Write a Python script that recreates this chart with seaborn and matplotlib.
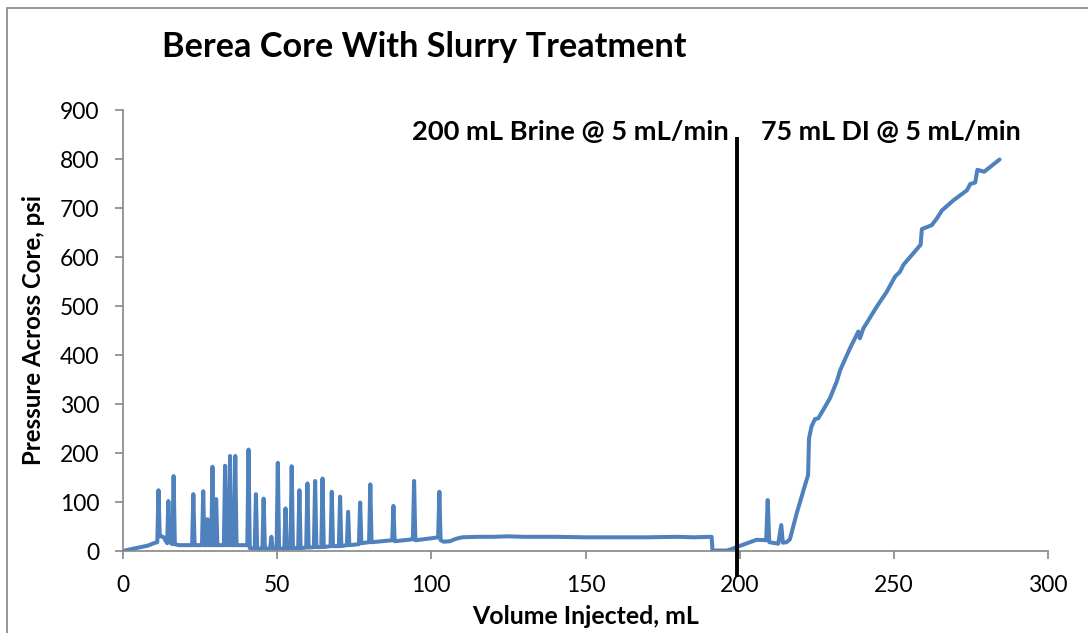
import matplotlib
matplotlib.use("Agg")
import matplotlib.pyplot as plt
import matplotlib.patches as mpatches
import seaborn as sns
import pandas as pd

# Core flood record: cumulative volume injected (mL) and differential pressure (psi)
volume_ml = [
    0, 2, 5, 8, 10, 11.1, 11.5, 11.9, 12.5, 13.2, 14.3, 14.7, 15.1, 16.0, 16.4, 16.8,
    18, 20, 22.4, 22.8, 23.2, 25.6, 26.0, 26.4, 27.0, 27.4, 27.8, 28.6, 29.0, 29.4,
    29.8, 30.2, 30.6, 32.7, 33.1, 33.5, 34.3, 34.7, 35.1, 36.0, 36.4, 36.8, 38, 40.3,
    40.7, 41.1, 42.7, 43.1, 43.5, 45.2, 45.6, 46.0, 47.7, 48.1, 48.5, 49.8, 50.2, 50.6,
    52.3, 52.7, 53.1, 54.3, 54.7, 55.1, 56.8, 57.2, 57.6, 59.4, 59.8, 60.2, 61.9, 62.3,
    62.7, 64.3, 64.7, 65.1, 67.3, 67.7, 68.1, 70.0, 70.4, 70.8, 72.6, 73.0, 73.4, 76.5,
    76.9, 77.3, 79.8, 80.2, 80.6, 87.3, 87.7, 88.1, 94.0, 94.4, 94.8, 100, 102.2, 102.6,
    103.0, 104, 106, 108, 110, 115, 120, 125, 130, 140, 150, 160, 170, 180, 185, 190.9,
    191.2, 195.8, 197, 199, 202, 205.5, 208.6, 209.1, 209.6, 212.5, 213.5, 214.0, 215.2,
    216.3, 218.5, 220.7, 221.7, 222.2, 222.5, 223.3, 224.4, 225.5, 227.1, 229.3, 231.5,
    232.6, 235.8, 238.5, 239, 240.1, 244.5, 247.7, 250.4, 252, 253.1, 256.4, 258.7,
    259.1, 262.3, 264, 265.6, 269.4, 273.7, 274.8, 276.4, 277.1, 279.3, 284.3,
]
pressure_psi = [
    0, 3, 7, 11, 16, 18, 124, 30, 30, 28, 16, 102, 18, 14, 153, 14,
    12, 12, 12, 116, 12, 12, 122, 12, 12, 65, 12, 12, 172, 12,
    12, 106, 12, 12, 174, 12, 12, 194, 12, 12, 194, 12, 12, 12,
    207, 6, 5, 116, 5, 5, 107, 5, 5, 29, 5, 5, 180, 5,
    5, 87, 5, 6, 173, 6, 6, 124, 6, 7, 138, 7, 8, 143,
    8, 8, 148, 8, 10, 121, 10, 10, 111, 10, 12, 80, 12, 14,
    99, 16, 18, 136, 18, 22, 92, 20, 24, 143, 22, 26, 28, 121,
    22, 19, 20, 25, 28, 29, 29, 30, 29, 29, 28, 28, 28, 29, 28, 29,
    1, 1, 3, 8, 15, 23, 22, 104, 18, 15, 53, 17, 18,
    24, 77, 124, 145, 155, 230, 254, 269, 271, 288, 312, 346,
    369, 414, 448, 434, 454, 499, 529, 560, 570, 584, 608, 625,
    657, 665, 679, 695, 716, 736, 749, 752, 778, 774, 799,
]

# Switch from brine to DI water
switch_volume = [199, 199]
switch_span = [-53, 845]

stage_labels = ["200 mL Brine @ 5 mL/min", "75 mL DI @ 5 mL/min"]
x_ticks = [0, 50, 100, 150, 200, 250, 300]
y_ticks = [0, 100, 200, 300, 400, 500, 600, 700, 800, 900]

df = pd.DataFrame({"Volume": volume_ml, "Pressure": pressure_psi})

sns.set_style("white")
plt.rcParams["font.family"] = ["Lato", "DejaVu Sans"]
plt.rcParams["text.color"] = "black"
plt.rcParams["axes.labelcolor"] = "black"
plt.rcParams["xtick.color"] = "black"
plt.rcParams["ytick.color"] = "black"

fig = plt.figure(figsize=(10.88, 6.33), dpi=100)
ax = fig.add_axes([0.1131, 0.1295, 0.8501, 0.6967])

axis_grey = "#868686"
sns.lineplot(data=df, x="Volume", y="Pressure", ax=ax, sort=False, estimator=None,
             color="#4F81BD", linewidth=2.9)

ax.plot(switch_volume, switch_span, color="black", linewidth=2.8, clip_on=False,
        solid_capstyle="butt", zorder=5)

ax.set_xlim(0, 300)
ax.set_ylim(0, 900)
ax.set_xticks(x_ticks)
ax.set_yticks(y_ticks)
ax.tick_params(axis="both", which="major", labelsize=16.5, length=6, width=1.2,
               color=axis_grey, labelcolor="black", direction="out",
               bottom=True, left=True)
ax.tick_params(axis="x", pad=11)
ax.tick_params(axis="y", pad=11)

for side in ["top", "right"]:
    ax.spines[side].set_visible(False)
for side in ["left", "bottom"]:
    ax.spines[side].set_color(axis_grey)
    ax.spines[side].set_linewidth(1.2)

xlab = ax.set_xlabel("Volume Injected, mL", fontsize=15, fontweight="bold", va="center")
ylab = ax.set_ylabel("Pressure Across Core, psi", fontsize=15, fontweight="bold",
                     va="center")
ax.xaxis.set_label_coords(0.5, -0.148)
ax.yaxis.set_label_coords(-0.097, 0.5)

left_note = ax.text(196.5, 855, stage_labels[0], ha="right", va="center",
                    fontsize=17, fontweight="bold")
right_note = ax.text(207, 855, stage_labels[1], ha="left", va="center",
                     fontsize=17, fontweight="bold")

title = fig.text(162 / 1088, 1 - 47 / 633, "Berea Core With Slurry Treatment",
                 ha="left", va="center", fontsize=23, fontweight="bold")


def fit_text(text, span_px, vertical=False):
    """Rescale a text so that its rendered extent spans span_px pixels."""
    renderer = fig.canvas.get_renderer()
    for _ in range(3):
        box = text.get_window_extent(renderer=renderer)
        size = box.height if vertical else box.width
        text.set_fontsize(text.get_fontsize() * span_px / size)


fig.canvas.draw()
fit_text(title, 523)
fit_text(left_note, 317)
fit_text(right_note, 260)
fit_text(xlab, 227)
fit_text(ylab, 270, vertical=True)

# Chart area border
fig.patches.append(mpatches.Rectangle((7 / 1088, -0.05), 1.2, 1 - 8 / 633 + 0.05,
                                      transform=fig.transFigure, fill=False,
                                      edgecolor=axis_grey, linewidth=1.2))

fig.savefig("out.png", dpi=100)
